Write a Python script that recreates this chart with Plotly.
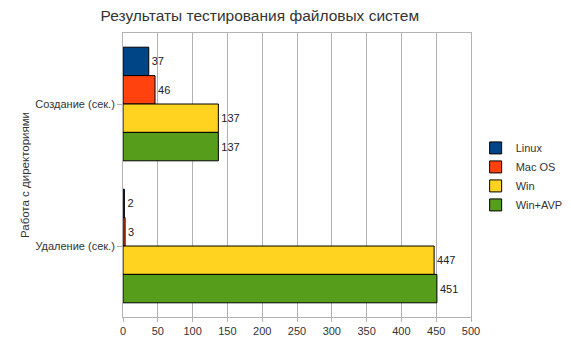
import plotly.graph_objects as go

categories = ["Создание (сек.)", "Удаление (сек.)"]
series_names = ["Linux", "Mac OS", "Win", "Win+AVP"]
linux = [37, 2]
macos = [46, 3]
win = [137, 447]
winavp = [137, 451]
colors = ["#004586", "#ff420e", "#ffd320", "#579d1c"]
x_ticks = [0, 50, 100, 150, 200, 250, 300, 350, 400, 450, 500]

fig = go.Figure()
for name, vals, col in zip(series_names, [linux, macos, win, winavp], colors):
    fig.add_trace(go.Bar(
        y=categories, x=vals, name=name, orientation="h",
        marker=dict(color=col, line=dict(color="#000000", width=1)),
        text=[str(v) for v in vals], textposition="outside",
        textfont=dict(size=11, color="#222222", family="Liberation Sans"),
        cliponaxis=False,
    ))

fig.update_layout(
    width=571, height=354,
    margin=dict(l=123, r=100, t=33, b=37, autoexpand=False),
    paper_bgcolor="white", plot_bgcolor="white",
    barmode="group", bargap=0.2, bargroupgap=0,
    font=dict(family="Liberation Sans", size=11, color="#333333"),
    title=dict(text="Результаты тестирования файловых систем", x=0.455, xanchor="center",
               xref="container", y=0.955, yanchor="middle", yref="container",
               font=dict(size=15.5, color="#333333")),
    legend=dict(x=0.833, xanchor="left", xref="container", y=0.495, yanchor="middle",
                traceorder="normal", font=dict(size=11, color="#333333"),
                itemwidth=30, tracegroupgap=0),
    showlegend=True,
)
fig.update_xaxes(range=[0, 500], tickvals=x_ticks, ticktext=[str(t) for t in x_ticks],
                 showgrid=True, gridcolor="#b3b3b3", gridwidth=1,
                 showline=True, linecolor="#b3b3b3", mirror=True,
                 ticks="outside", ticklen=4, tickcolor="#b3b3b3", zeroline=False,
                 tickfont=dict(size=11, color="#333333"))
fig.update_yaxes(autorange="reversed", showgrid=False,
                 showline=True, linecolor="#b3b3b3", mirror=True,
                 ticks="outside", ticklen=5, tickcolor="#b3b3b3",
                 tickfont=dict(size=11, color="#333333"),
                 title=dict(text="Работа с директориями", font=dict(size=11.5, color="#333333"), standoff=3))

fig.write_html("out.html")
